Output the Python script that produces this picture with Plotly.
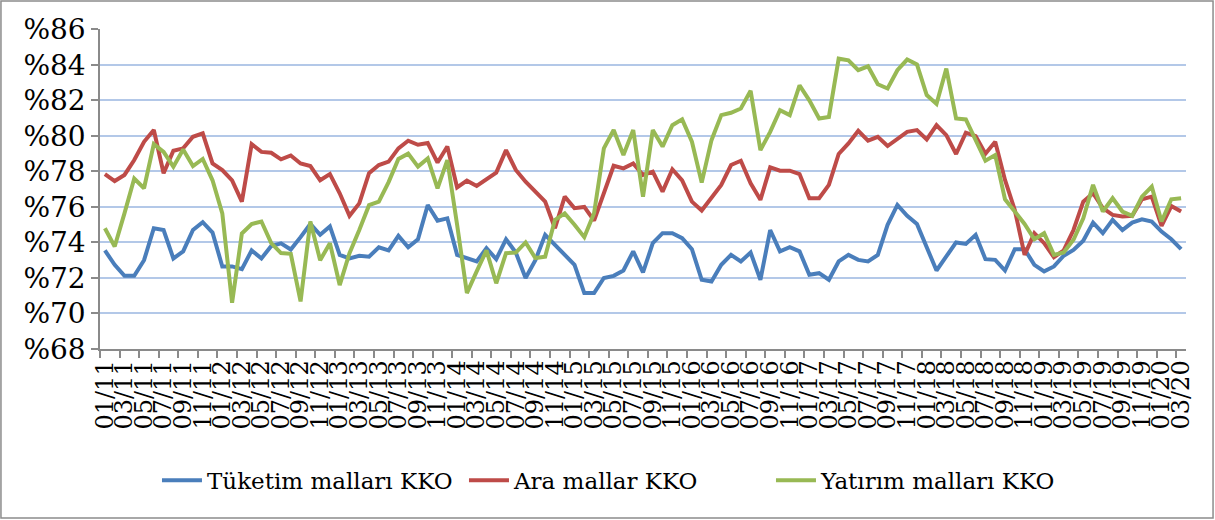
import plotly.graph_objects as go

years = list(range(11, 21))
months = [f"{m:02d}/{y:02d}" for y in years for m in range(1, 13)][:111]

tuketim = [73.55, 72.74, 72.12, 72.12, 73.0, 74.8, 74.7, 73.1, 73.5, 74.7,
           75.14, 74.56, 72.65, 72.65, 72.5, 73.55, 73.1, 73.8, 73.95, 73.6,
           74.3, 75.04, 74.43, 74.9, 73.3, 73.1, 73.25, 73.2, 73.73, 73.55,
           74.37, 73.73, 74.18, 76.11, 75.23, 75.36, 73.3, 73.12, 72.93, 73.68,
           73.06, 74.18, 73.43, 72.0, 73.0, 74.43, 73.87, 73.3, 72.74, 71.15,
           71.15, 72.0, 72.12, 72.42, 73.5, 72.31, 73.96, 74.52, 74.52, 74.24,
           73.62, 71.9, 71.8, 72.74, 73.3, 72.93, 73.43, 71.9, 74.7, 73.5,
           73.73, 73.5, 72.18, 72.27, 71.9, 72.93, 73.3, 73.02, 72.93, 73.3,
           74.99, 76.11, 75.5, 75.04, 73.77, 72.42, 73.21, 74.0, 73.92, 74.43,
           73.06, 73.02, 72.42, 73.62, 73.62, 72.74, 72.37, 72.65, 73.25, 73.58,
           74.1, 75.12, 74.52, 75.27, 74.7, 75.12, 75.3, 75.18, 74.61, 74.18,
           73.62]

ara = [77.85, 77.46, 77.8, 78.64, 79.67, 80.33, 77.9, 79.16, 79.3, 79.95,
       80.14, 78.45, 78.08, 77.5, 76.3, 79.54, 79.1, 79.05, 78.68, 78.9,
       78.45, 78.3, 77.5, 77.85, 76.77, 75.5, 76.2, 77.9, 78.36, 78.55,
       79.3, 79.73, 79.5, 79.6, 78.5, 79.4, 77.1, 77.48, 77.18, 77.55,
       77.93, 79.2, 78.08, 77.42, 76.86, 76.3, 74.8, 76.58, 75.93, 76.0,
       75.23, 76.77, 78.32, 78.17, 78.45, 77.8, 77.99, 76.86, 78.12, 77.5,
       76.3, 75.8, 76.49, 77.24, 78.36, 78.6, 77.33, 76.4, 78.23, 78.04,
       78.04, 77.85, 76.49, 76.49, 77.24, 78.98, 79.58, 80.29, 79.73, 79.95,
       79.43, 79.8, 80.23, 80.33, 79.8, 80.6, 80.04, 78.98, 80.18, 79.99,
       79.0, 79.67, 77.52, 75.83, 73.3, 74.52, 73.96, 73.17, 73.55, 74.7,
       76.3, 76.77, 75.93, 75.55, 75.46, 75.5, 76.43, 76.58, 74.93, 76.05,
       75.74]

yatirim = [74.8, 73.77, 75.64, 77.6, 77.05, 79.54, 79.1, 78.27, 79.24, 78.3,
           78.7, 77.5, 75.64, 70.6, 74.5, 75.04, 75.18, 73.96, 73.4, 73.36,
           70.68, 75.18, 73.0, 73.96, 71.6, 73.4, 74.7, 76.1, 76.3, 77.4,
           78.7, 79.0, 78.27, 78.73, 77.05, 78.64, 75.0, 71.15, 72.37, 73.55,
           71.7, 73.4, 73.43, 74.0, 73.12, 73.2, 75.27, 75.64, 75.0, 74.3,
           75.64, 79.3, 80.33, 78.92, 80.33, 76.58, 80.33, 79.4, 80.6, 80.93,
           79.67, 77.37, 79.76, 81.17, 81.3, 81.54, 82.54, 79.2, 80.23, 81.45,
           81.17, 82.85, 82.0, 80.98, 81.07, 84.35, 84.26, 83.7, 83.92, 82.91,
           82.67, 83.7, 84.3, 84.03, 82.3, 81.8, 83.79, 80.98, 80.93, 79.76,
           78.6, 78.92, 76.43, 75.74, 75.04, 74.18, 74.52, 73.3, 73.43, 74.15,
           75.36, 77.24, 75.74, 76.49, 75.74, 75.5, 76.58, 77.14, 75.18, 76.43,
           76.49]

series_names = ["Tüketim malları KKO", "Ara mallar KKO", "Yatırım malları KKO"]
series_colors = ["#4a7ebb", "#be4b48", "#98b954"]

y_ticks = list(range(68, 87, 2))
y_ticktext = [f"%{v}" for v in y_ticks]

x_idx = list(range(len(months)))
label_idx = x_idx[::2]
label_text = [months[i] for i in label_idx]

FONT = "DejaVu Serif"

fig = go.Figure()
for name, vals, col in zip(series_names, [tuketim, ara, yatirim], series_colors):
    fig.add_trace(go.Scatter(x=x_idx, y=vals, mode="lines", name=name,
                             line=dict(color=col, width=4)))

fig.update_layout(
    width=1215, height=520,
    margin=dict(l=100, r=29, t=29, b=171),
    paper_bgcolor="white", plot_bgcolor="white",
    font=dict(family=FONT, color="black"),
    showlegend=True,
    legend=dict(orientation="h", x=0.4765, xanchor="center", y=-0.41, yanchor="middle",
                font=dict(family=FONT, size=23), itemwidth=40, entrywidth=252),
    xaxis=dict(range=[-0.5, len(months) - 0.5], tickmode="array",
               tickvals=label_idx, ticktext=label_text, tickangle=-90,
               tickfont=dict(family=FONT, size=24), ticks="", showgrid=False,
               showline=True, linecolor="#8a8a8a", linewidth=1.5, zeroline=False,
               minor=dict(tickmode="linear", tick0=-0.5, dtick=2, ticks="outside",
                          ticklen=7, tickcolor="#8a8a8a", tickwidth=1.5, showgrid=False)),
    yaxis=dict(range=[68, 86.02], tickmode="array", tickvals=y_ticks, ticktext=y_ticktext,
               tickfont=dict(family=FONT, size=28), ticks="outside", ticklen=7,
               tickcolor="#8a8a8a", tickwidth=1.5, showline=True, linecolor="#8a8a8a",
               linewidth=1.5, showgrid=True, gridcolor="#b3c8e8", gridwidth=2,
               zeroline=False),
    shapes=[dict(type="rect", xref="paper", yref="paper",
                 x0=-0.0912, x1=1.0249, y0=-0.528, y1=1.0875,
                 line=dict(color="#8c8c8c", width=1.5), fillcolor="rgba(0,0,0,0)",
                 layer="below")],
)

fig.write_html("out.html", config={"displayModeBar": False},
               post_script="document.body.style.margin='0';")
